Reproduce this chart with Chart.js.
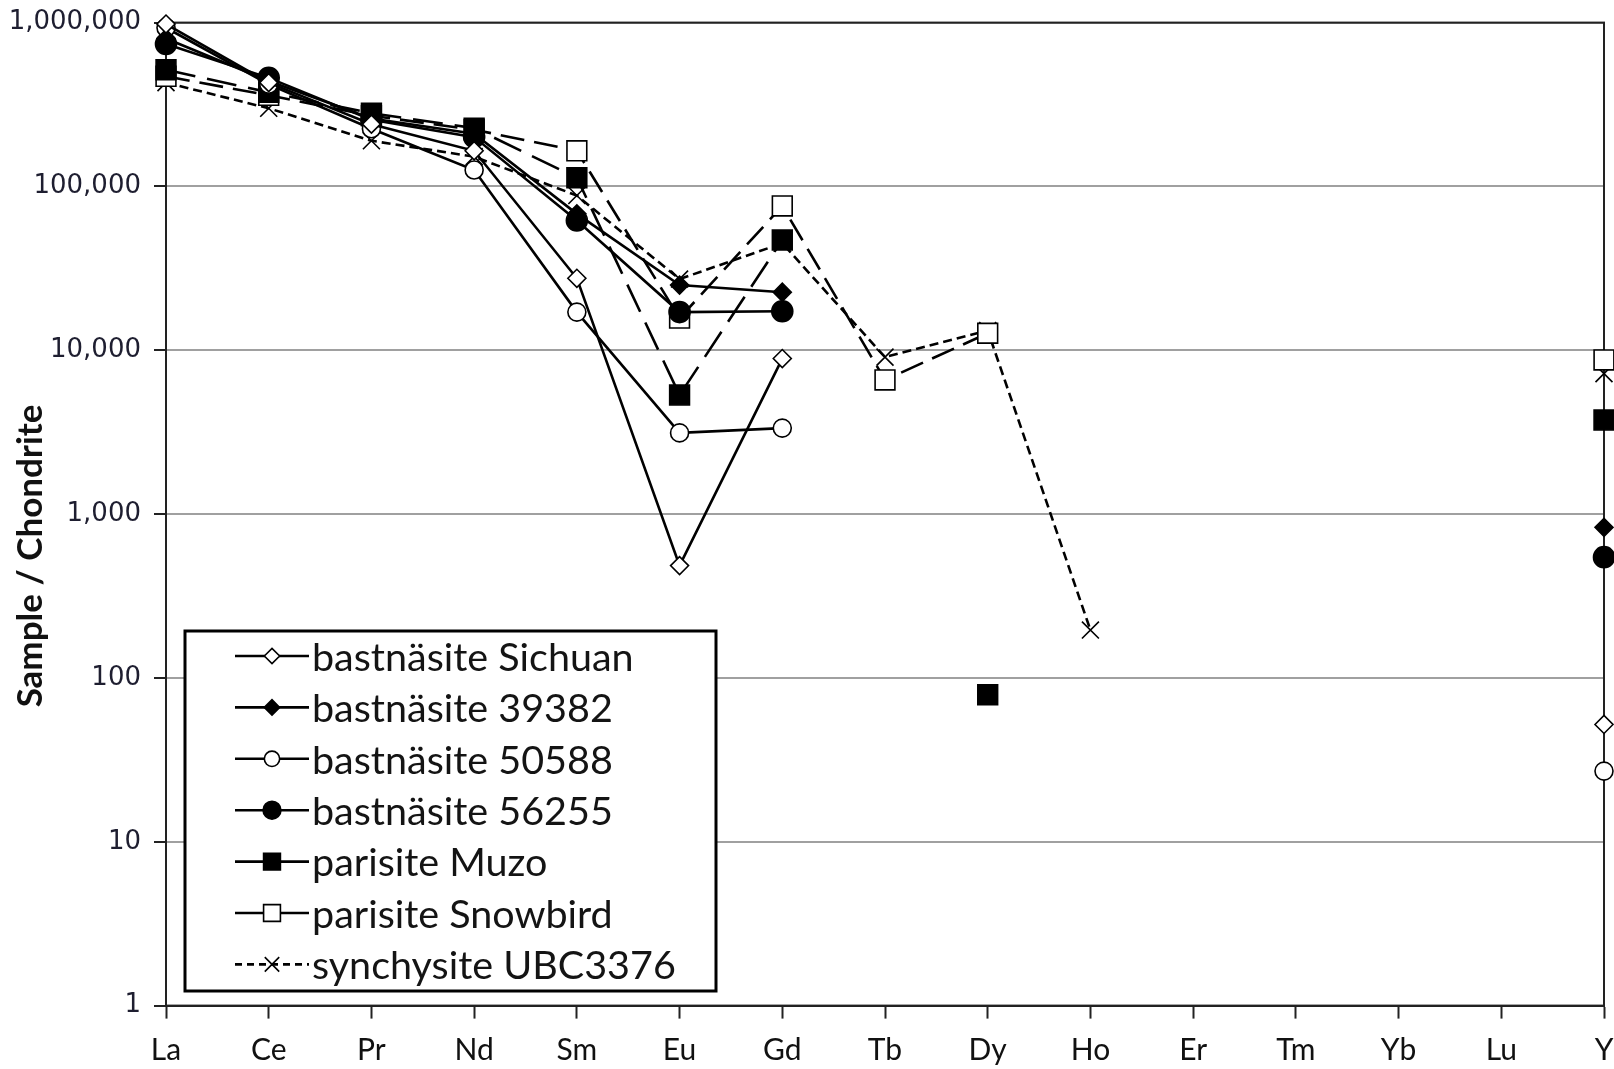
<!DOCTYPE html>
<html>
<head>
<meta charset="utf-8">
<script src="https://cdn.jsdelivr.net/npm/chart.js@4.4.1/dist/chart.umd.min.js"></script>
<style>
  html, body { margin: 0; padding: 0; background: #fff; }
  canvas { display: block; }
</style>
</head>
<body>
<canvas id="reeChart" width="1614" height="1069" style="width:1614px;height:1069px"></canvas>
<script>
const elements = ['La', 'Ce', 'Pr', 'Nd', 'Sm', 'Eu', 'Gd', 'Tb', 'Dy', 'Ho', 'Er', 'Tm', 'Yb', 'Lu', 'Y'];
const yTicks = [1, 10, 100, 1000, 10000, 100000, 1000000];

const sichuan  = [980000, 430000, 240000, 165000, 27500, 485, 8900, null, null, null, null, null, null, null, 52];
const bast39382 = [800000, 440000, 260000, 210000, 68000, 25000, 22600, null, null, null, null, null, null, null, 830];
const bast50588 = [930000, 420000, 225000, 126000, 17100, 3130, 3350, null, null, null, null, null, null, null, 27];
const bast56255 = [740000, 460000, 255000, 200000, 62000, 17100, 17300, null, null, null, null, null, null, null, 546];
const muzo     = [515000, 375000, 280000, 227000, 113000, 5330, 47100, null, 79, null, null, null, null, null, 3750];
const snowbird = [470000, 360000, 270000, 222000, 165000, 15700, 76000, 6590, 12700, null, null, null, null, null, 8730];
const ubc3376  = [430000, 300000, 190000, 152000, 88000, 27200, 45000, 9080, 13200, 196, null, null, null, null, 7200];

function series(label, data, style, radius, fill, dash, legendDash) {
  return {
    label: label,
    data: data,
    borderColor: '#000',
    borderWidth: 2.6,
    borderDash: dash,
    legendDash: legendDash,
    pointStyle: style,
    pointRadius: radius,
    pointBackgroundColor: fill,
    pointBorderColor: '#000',
    pointBorderWidth: 1.6,
    tension: 0,
    spanGaps: false,
    clip: false
  };
}

const datasets = [
  series('bastnäsite Sichuan', sichuan, 'rectRot', 9, '#fff', [], []),
  series('bastnäsite 39382', bast39382, 'rectRot', 9, '#000', [], []),
  series('bastnäsite 50588', bast50588, 'circle', 9, '#fff', [], []),
  series('bastnäsite 56255', bast56255, 'circle', 10.5, '#000', [], []),
  series('parisite Muzo', muzo, 'rect', 14, '#000', [30, 12], []),
  series('parisite Snowbird', snowbird, 'rect', 14, '#fff', [24, 10], []),
  series('synchysite UBC3376', ubc3376, 'crossRot', 12, '#fff', [9, 5], [7, 5])
];

// drop the label-overflow padding so the plot area sits where the layout padding says
function noOverflow(scale) {
  scale.paddingTop = 0;
  scale.paddingBottom = 0;
  scale.paddingLeft = 0;
  scale.paddingRight = 0;
}

// plot frame, Excel-style legend box and the y title
const extras = {
  id: 'extras',
  beforeDatasetsDraw(chart) {
    const a = chart.chartArea, ctx = chart.ctx;
    ctx.save();
    ctx.strokeStyle = '#222';
    ctx.lineWidth = 2;
    ctx.strokeRect(a.left, a.top, a.right - a.left, a.bottom - a.top);
    ctx.restore();
  },
  afterDraw(chart) {
    const ctx = chart.ctx;
    ctx.save();
    // legend box
    ctx.fillStyle = '#fff';
    ctx.fillRect(185, 631, 531, 360);
    ctx.strokeStyle = '#000';
    ctx.lineWidth = 3;
    ctx.strokeRect(185, 631, 531, 360);
    ctx.font = '39.5px Lato';
    ctx.textBaseline = 'middle';
    chart.data.datasets.forEach((ds, i) => {
      const y = 656 + i * 51.4;
      ctx.strokeStyle = '#000';
      ctx.lineWidth = 2.6;
      ctx.setLineDash(ds.legendDash);
      ctx.beginPath();
      ctx.moveTo(235, y);
      ctx.lineTo(309, y);
      ctx.stroke();
      ctx.setLineDash([]);
      ctx.fillStyle = ds.pointBackgroundColor;
      ctx.strokeStyle = '#000';
      ctx.lineWidth = ds.pointBorderWidth;
      Chart.helpers.drawPoint(ctx, {
        pointStyle: ds.pointStyle, radius: ds.pointRadius * 0.85, rotation: 0, borderWidth: ds.pointBorderWidth
      }, 272, y);
      ctx.fillStyle = '#141414';
      ctx.fillText(ds.label, 312, y + 2);
    });
    // y axis title
    ctx.translate(31, 556);
    ctx.rotate(-Math.PI / 2);
    ctx.font = 'bold 35px Lato';
    ctx.fillStyle = '#111';
    ctx.textAlign = 'center';
    ctx.textBaseline = 'middle';
    ctx.fillText('Sample / Chondrite', 0, 0);
    ctx.restore();
  }
};

new Chart(document.getElementById('reeChart'), {
  type: 'line',
  data: { labels: elements, datasets: datasets },
  plugins: [extras],
  options: {
    responsive: false,
    animation: false,
    layout: { autoPadding: false, padding: { left: 0, right: 10, top: 22.6, bottom: 0 } },
    plugins: { legend: { display: false }, tooltip: { enabled: false } },
    scales: {
      x: {
        type: 'category',
        offset: false,
        grid: { drawOnChartArea: false, drawTicks: true, tickLength: 13, tickColor: '#222', tickWidth: 2 },
        border: { color: '#222', width: 2 },
        ticks: { font: { family: 'Lato', size: 30 }, color: '#111', padding: 14, maxRotation: 0, autoSkip: false },
        afterFit(scale) { scale.height = 63.4; noOverflow(scale); }
      },
      y: {
        type: 'logarithmic',
        min: 1,
        max: 1000000,
        afterBuildTicks(scale) { scale.ticks = yTicks.map(v => ({ value: v })); },
        ticks: {
          font: { family: 'DejaVu Sans', size: 26 },
          color: '#1e1e30',
          padding: 13,
          callback: v => Number(v).toLocaleString('en-US')
        },
        grid: { color: '#a0a0a0', lineWidth: 2, tickColor: '#222', tickLength: 12, tickWidth: 2 },
        border: { color: '#222', width: 2 },
        afterFit(scale) { scale.width = 166; noOverflow(scale); }
      }
    }
  }
});
</script>
</body>
</html>
